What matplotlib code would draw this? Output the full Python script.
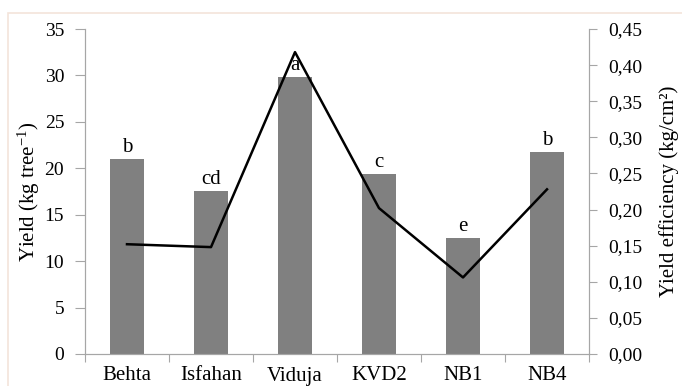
import matplotlib
matplotlib.use('Agg')
import matplotlib.pyplot as plt
from matplotlib.patches import Rectangle

# datos
cultivares = ['Behta', 'Isfahan', 'Viduja', 'KVD2', 'NB1', 'NB4']
rendimiento = [21.0, 17.6, 29.8, 19.4, 12.5, 21.8]
eficiencia = [0.152, 0.148, 0.418, 0.202, 0.106, 0.228]
letras = ['b', 'cd', 'a', 'c', 'e', 'b']
ticks_eficiencia = [0.00, 0.05, 0.10, 0.15, 0.20, 0.25, 0.30, 0.35, 0.40, 0.45]

plt.rcParams['font.family'] = 'Liberation Serif'
plt.rcParams['mathtext.fontset'] = 'custom'
plt.rcParams['mathtext.rm'] = 'Liberation Serif'
plt.rcParams['mathtext.it'] = 'Liberation Serif:italic'

gris = '#a6a6a6'

fig = plt.figure(figsize=(6.82, 3.86), dpi=100)
# marco tenue de la imagen original
fig.patches.append(Rectangle((8/682, -0.1), 1.2, (386-13)/386 + 0.1, transform=fig.transFigure,
                             fill=False, edgecolor='#f3e4da', linewidth=1.2))

ax = fig.add_axes([85/682, 32/386, 504/682, 325/386])
x = list(range(len(cultivares)))
ax.bar(x, rendimiento, width=0.4, color='#808080')
for xi, v, l in zip(x, rendimiento, letras):
    ax.text(xi, v + 0.2, l, ha='center', va='bottom', fontsize=15)

ax.set_xlim(-0.5, 5.5)
ax.set_ylim(0, 35)
ax.set_yticks(range(0, 36, 5))
ax.set_xticks([i + 0.5 for i in range(-1, 6)])
ax.set_xticklabels([])
ax.set_xticks(x, minor=True)
ax.set_xticklabels(cultivares, minor=True, fontsize=15)
ax.tick_params(axis='x', which='major', length=6, color=gris, direction='out')
ax.tick_params(axis='x', which='minor', length=0, pad=9)
ax.tick_params(axis='y', length=7, color=gris, labelsize=14, pad=8)
ax.set_ylabel('Yield (kg tree$^{-1}$)', fontsize=15, labelpad=2)
ax.spines['top'].set_visible(False)
for s in ['left', 'bottom', 'right']:
    ax.spines[s].set_color(gris)

ax2 = ax.twinx()
ax2.plot(x, eficiencia, color='black', linewidth=1.8)
ax2.set_ylim(0, 0.45)
ax2.set_yticks(ticks_eficiencia)
ax2.set_yticklabels([('%.2f' % t).replace('.', ',') for t in ticks_eficiencia])
ax2.tick_params(axis='y', length=6, color=gris, labelsize=14, pad=8)
ax2.set_ylabel('Yield efficiency (kg/cm²)', fontsize=15, labelpad=12)
ax2.spines['top'].set_visible(False)
for s in ['left', 'bottom', 'right']:
    ax2.spines[s].set_color(gris)

plt.savefig('out.png', dpi=100)
